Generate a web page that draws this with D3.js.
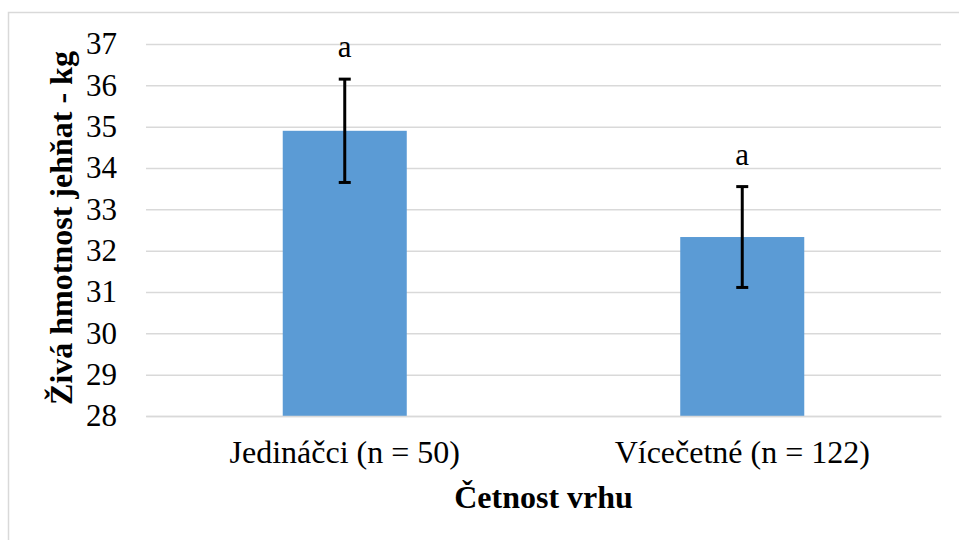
<!DOCTYPE html>
<html>
<head>
<meta charset="utf-8">
<script src="https://cdn.jsdelivr.net/npm/d3@7"></script>
<style>
    body { margin: 0; background: #fff; }
    svg { display: block; }
    svg text { font-family: "Liberation Serif", "Times New Roman", serif; fill: #000; }
</style>
</head>
<body>
<script>
// Data
const categories = ["Jedináčci (n = 50)", "Vícečetné (n = 122)"];
const means = [34.9, 32.33];
const errors = [1.25, 1.22];
const letters = ["a", "a"];
const yTicks = [28, 29, 30, 31, 32, 33, 34, 35, 36, 37];

const width = 959, height = 540;
const margin = {left: 146, right: 18, top: 44, bottom: 124};
const SERIF = '"Liberation Serif", "Times New Roman", serif';

const svg = d3.select("body")
    .append("svg")
    .attr("width", width)
    .attr("height", height);

// outer frame
svg.append("rect")
    .attr("x", 8.5).attr("y", 12.5)
    .attr("width", width).attr("height", height)
    .attr("fill", "none")
    .attr("stroke", "#d9d9d9")
    .attr("stroke-width", 1.5);

const x = d3.scaleBand()
    .domain(categories)
    .range([margin.left, width - margin.right]);

const y = d3.scaleLinear()
    .domain([28, 37])
    .range([height - margin.bottom, margin.top]);

/* --------- GRID --------- */
const grid = svg.append("g")
    .attr("transform", `translate(${margin.left},0)`)
    .call(d3.axisLeft(y)
        .tickValues(yTicks)
        .tickSize(-(width - margin.left - margin.right))
        .tickFormat(""));
grid.select(".domain").remove();
grid.selectAll("line")
    .attr("stroke", "#d9d9d9")
    .attr("stroke-width", 1.5);

/* --------- Y LABELS --------- */
const yAxis = svg.append("g")
    .attr("transform", `translate(${margin.left},0)`)
    .call(d3.axisLeft(y).tickValues(yTicks).tickSize(0).tickPadding(29));
yAxis.select(".domain").remove();
yAxis.attr("font-family", null).attr("font-size", null);
yAxis.selectAll("text")
    .style("font-family", SERIF)
    .style("font-size", "31px")
    .attr("fill", "#000");

/* --------- BARS --------- */
const barW = x.bandwidth() * 0.312;
const cx = d => x(d) + x.bandwidth() / 2;

svg.append("g").selectAll("rect")
    .data(categories)
    .join("rect")
    .attr("x", d => cx(d) - barW / 2)
    .attr("width", barW)
    .attr("y", (d, i) => y(means[i]))
    .attr("height", (d, i) => y(28) - y(means[i]))
    .attr("fill", "#5b9bd5");

/* --------- ERROR BARS --------- */
const err = svg.append("g")
    .attr("stroke", "#000")
    .attr("stroke-width", 3);

categories.forEach((c, i) => {
    const hi = y(means[i] + errors[i]), lo = y(means[i] - errors[i]);
    err.append("line").attr("x1", cx(c)).attr("x2", cx(c)).attr("y1", hi).attr("y2", lo);
    err.append("line").attr("x1", cx(c) - 6).attr("x2", cx(c) + 6).attr("y1", hi).attr("y2", hi);
    err.append("line").attr("x1", cx(c) - 6).attr("x2", cx(c) + 6).attr("y1", lo).attr("y2", lo);
});

/* --------- LETTERS --------- */
svg.append("g").selectAll("text")
    .data(categories)
    .join("text")
    .attr("x", d => cx(d))
    .attr("y", (d, i) => y(means[i] + errors[i]) - 22)
    .attr("text-anchor", "middle")
    .style("font-family", SERIF)
    .style("font-size", "31px")
    .text((d, i) => letters[i]);

/* --------- X LABELS --------- */
const xAxis = svg.append("g")
    .attr("transform", `translate(0,${y(28)})`)
    .call(d3.axisBottom(x).tickSize(0).tickPadding(24));
xAxis.attr("font-family", null).attr("font-size", null);
xAxis.select(".domain")
    .attr("stroke", "#d9d9d9")
    .attr("stroke-width", 1.5);
xAxis.selectAll("text")
    .style("font-family", SERIF)
    .style("font-size", "32px")
    .attr("fill", "#000");

/* --------- TITLES --------- */
svg.append("text")
    .attr("x", (margin.left + width - margin.right) / 2)
    .attr("y", 508)
    .attr("text-anchor", "middle")
    .style("font-family", SERIF)
    .style("font-size", "32px")
    .style("font-weight", "bold")
    .text("Četnost vrhu");

svg.append("text")
    .attr("transform", `translate(72,${(y(28) + y(37)) / 2 - 2}) rotate(-90)`)
    .attr("text-anchor", "middle")
    .style("font-family", SERIF)
    .style("font-size", "32px")
    .style("font-weight", "bold")
    .text("Živá hmotnost jehňat - kg");
</script>
</body>
</html>
